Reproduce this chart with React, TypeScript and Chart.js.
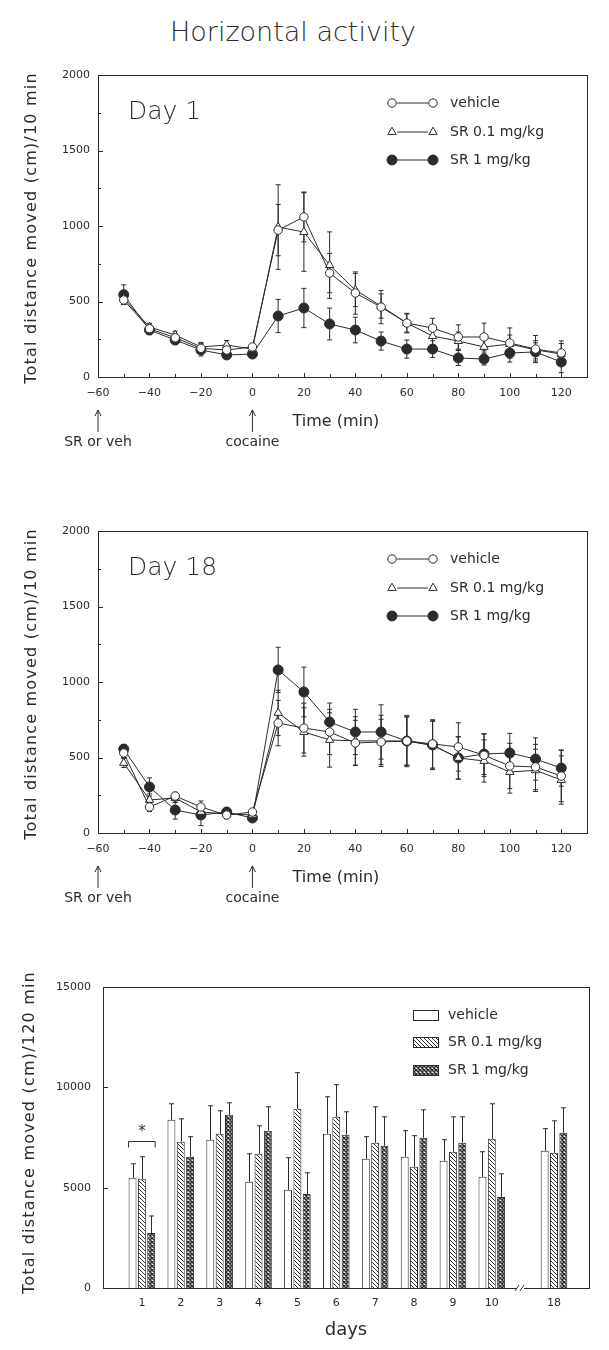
import React, { useEffect, useRef } from 'react';
import { Chart, registerables } from 'chart.js';

Chart.register(...registerables);

const FONT = "'DejaVu Sans', sans-serif";
const INK = '#2b2b2b';

// ---------- Time-course data (min) ----------
const timeMin = [-50, -40, -30, -20, -10, 0, 10, 20, 30, 40, 50, 60, 70, 80, 90, 100, 110, 120];
const timeTicks = [-60, -40, -20, 0, 20, 40, 60, 80, 100, 120];
const distTicks = [0, 500, 1000, 1500, 2000];
const seriesNames = ['vehicle', 'SR 0.1 mg/kg', 'SR 1 mg/kg'];

const day1Vehicle = [510, 320, 260, 190, 179, 199, 973, 1060, 688, 556, 463, 357, 324, 265, 265, 225, 185, 159];
const day1Sr01 = [520, 331, 278, 199, 212, 185, 993, 960, 741, 576, 470, 357, 271, 238, 199, 218, 180, 152];
const day1Sr1 = [545, 311, 245, 179, 146, 152, 404, 457, 351, 311, 238, 185, 185, 126, 119, 159, 166, 99];
const day1VehicleErr = [30, 25, 25, 30, 25, 20, 170, 165, 130, 140, 110, 65, 65, 80, 92, 100, 90, 80];
const day1Sr01Err = [40, 25, 25, 30, 30, 25, 280, 260, 220, 110, 80, 60, 60, 60, 60, 60, 60, 70];
const day1Sr1Err = [65, 30, 30, 40, 25, 25, 110, 130, 105, 85, 60, 60, 55, 50, 40, 60, 60, 70];

const day18Vehicle = [530, 172, 245, 172, 119, 139, 728, 695, 669, 596, 603, 609, 590, 570, 515, 444, 437, 377];
const day18Sr01 = [464, 219, 232, 140, 125, 120, 795, 669, 616, 610, 610, 609, 580, 497, 477, 404, 415, 351];
const day18Sr1 = [556, 305, 152, 119, 139, 99, 1080, 934, 735, 669, 669, 609, 583, 497, 523, 530, 490, 430];
const day18VehicleErr = [30, 30, 25, 40, 25, 20, 150, 165, 150, 150, 150, 160, 160, 160, 140, 150, 150, 170];
const day18Sr01Err = [30, 40, 30, 30, 25, 20, 150, 160, 180, 160, 170, 170, 160, 140, 140, 140, 140, 160];
const day18Sr1Err = [30, 60, 60, 70, 20, 20, 150, 165, 126, 150, 180, 160, 160, 140, 135, 130, 140, 120];

// ---------- Totals per day ----------
const days = ['1', '2', '3', '4', '5', '6', '7', '8', '9', '10', '18'];
const totalTicks = [0, 5000, 10000, 15000];
const vehicleTotal = [5490, 8380, 7390, 5290, 4890, 7690, 6440, 6540, 6340, 5540, 6840];
const vehicleTotalErr = [700, 800, 1690, 1400, 1600, 1840, 1100, 1300, 1050, 1250, 1100];
const sr01Total = [5440, 7290, 7690, 6690, 8930, 8530, 7240, 6040, 6790, 7440, 6740];
const sr01TotalErr = [1100, 1140, 1140, 1390, 1800, 1600, 1790, 1550, 1740, 1740, 1590];
const sr1Total = [2740, 6540, 8630, 7840, 4690, 7640, 7090, 7490, 7240, 4540, 7740];
const sr1TotalErr = [850, 1000, 600, 1190, 1050, 1140, 1440, 1390, 1290, 1150, 1240];

// axis position of a day (broken axis between 10 and 18)
const dayPos = (d: string) => (Number(d) <= 10 ? Number(d) : 11.6);

const fmt = (v: number) => (v < 0 ? '\u2212' + Math.abs(v) : String(v));

function drawMarker(ctx: CanvasRenderingContext2D, kind: number, x: number, y: number) {
  ctx.save();
  ctx.strokeStyle = INK;
  ctx.lineWidth = 1;
  ctx.beginPath();
  if (kind === 1) {
    const r = 4.8;
    ctx.moveTo(x, y - r);
    ctx.lineTo(x + 0.866 * r, y + r / 2);
    ctx.lineTo(x - 0.866 * r, y + r / 2);
    ctx.closePath();
    ctx.fillStyle = '#fff';
  } else {
    const r = kind === 0 ? 4.2 : 5;
    ctx.arc(x, y, r, 0, Math.PI * 2);
    ctx.fillStyle = kind === 0 ? '#fff' : INK;
  }
  ctx.fill();
  ctx.stroke();
  ctx.restore();
}

function drawYTitle(ctx: CanvasRenderingContext2D, text: string, cx: number, cy: number) {
  ctx.save();
  ctx.translate(cx, cy);
  ctx.rotate(-Math.PI / 2);
  ctx.font = `16px ${FONT}`;
  (ctx as any).letterSpacing = '1.2px';
  ctx.textAlign = 'center';
  ctx.textBaseline = 'middle';
  ctx.fillStyle = INK;
  ctx.fillText(text, 0, 0);
  ctx.restore();
}

function drawArrow(ctx: CanvasRenderingContext2D, x: number, y1: number, y2: number) {
  ctx.beginPath();
  ctx.moveTo(x, y1);
  ctx.lineTo(x, y2);
  ctx.moveTo(x - 3, y1 + 6);
  ctx.lineTo(x, y1);
  ctx.lineTo(x + 3, y1 + 6);
  ctx.stroke();
}

function linePlugin(dayLabel: string) {
  return {
    id: 'decor',
    beforeDatasetsDraw(chart: any) {
      const { ctx, scales } = chart;
      const xs = scales.x, ys = scales.y;
      ctx.save();
      ctx.strokeStyle = INK;
      ctx.lineWidth = 1;
      chart.data.datasets.forEach((ds: any) => {
        ds.data.forEach((p: any, i: number) => {
          const e = ds.errors[i];
          const px = xs.getPixelForValue(p.x);
          const yt = ys.getPixelForValue(p.y + e);
          const yb = ys.getPixelForValue(Math.max(0, p.y - e));
          ctx.beginPath();
          ctx.moveTo(px, yt);
          ctx.lineTo(px, yb);
          ctx.moveTo(px - 2.5, yt);
          ctx.lineTo(px + 2.5, yt);
          ctx.moveTo(px - 2.5, yb);
          ctx.lineTo(px + 2.5, yb);
          ctx.stroke();
        });
      });
      ctx.restore();
    },
    afterDraw(chart: any) {
      const { ctx, chartArea: a, scales } = chart;
      const xs = scales.x, ys = scales.y;
      ctx.save();
      ctx.strokeStyle = INK;
      ctx.lineWidth = 1;
      ctx.strokeRect(Math.round(a.left) + 0.5, Math.round(a.top) + 0.5, Math.round(a.right - a.left), Math.round(a.bottom - a.top));
      // inward ticks
      ctx.beginPath();
      for (let v = -60; v <= 130; v += 10) {
        const px = Math.round(xs.getPixelForValue(v)) + 0.5;
        const len = v % 20 === 0 ? 4 : 3;
        ctx.moveTo(px, a.bottom);
        ctx.lineTo(px, a.bottom - len);
      }
      for (let v = 0; v <= 2000; v += 250) {
        const py = Math.round(ys.getPixelForValue(v)) + 0.5;
        const len = v % 500 === 0 ? 5 : 3;
        ctx.moveTo(a.left, py);
        ctx.lineTo(a.left + len, py);
      }
      ctx.stroke();

      // day label
      ctx.fillStyle = INK;
      ctx.font = `200 25px ${FONT}`;
      ctx.textAlign = 'left';
      ctx.textBaseline = 'middle';
      ctx.fillText(dayLabel, a.left + 30, a.top + 37);

      // legend
      const rows = [28, 57, 85];
      rows.forEach((dy, k) => {
        const y = a.top + dy;
        const x1 = a.left + 294, x2 = a.left + 335;
        ctx.beginPath();
        ctx.moveTo(x1 + 5, y);
        ctx.lineTo(x2 - 5, y);
        ctx.stroke();
        drawMarker(ctx, k, x1, y);
        drawMarker(ctx, k, x2, y);
        ctx.fillStyle = INK;
        ctx.font = `14px ${FONT}`;
        ctx.textAlign = 'left';
        ctx.textBaseline = 'middle';
        ctx.fillText(seriesNames[k], a.left + 352, y);
      });

      // annotations
      const xa = xs.getPixelForValue(-60);
      const xb = xs.getPixelForValue(0);
      drawArrow(ctx, xa, a.bottom + 33, a.bottom + 55);
      drawArrow(ctx, xb, a.bottom + 33, a.bottom + 55);
      ctx.fillStyle = INK;
      ctx.font = `14px ${FONT}`;
      ctx.textAlign = 'center';
      ctx.textBaseline = 'middle';
      ctx.fillText('SR or veh', xa, a.bottom + 65);
      ctx.fillText('cocaine', xb, a.bottom + 65);
      ctx.font = `16px ${FONT}`;
      ctx.textAlign = 'left';
      ctx.fillText('Time (min)', xb + 40, a.bottom + 45);

      drawYTitle(ctx, 'Total distance moved (cm)/10 min', 32, (a.top + a.bottom) / 2 + 2);
      ctx.restore();
    },
  };
}

function lineConfig(dayLabel: string, vals: number[][], errs: number[][]): any {
  const styles = [
    { ps: 'circle', r: 4.2, bg: '#fff' },
    { ps: 'triangle', r: 4.8, bg: '#fff' },
    { ps: 'circle', r: 5, bg: INK },
  ];
  return {
    type: 'line',
    data: {
      datasets: vals.map((v, k) => ({
        label: seriesNames[k],
        data: v.map((y, i) => ({ x: timeMin[i], y })),
        errors: errs[k],
        borderColor: INK,
        borderWidth: 1,
        pointStyle: styles[k].ps,
        pointRadius: styles[k].r,
        pointBackgroundColor: styles[k].bg,
        pointBorderColor: INK,
        pointBorderWidth: 1,
        tension: 0,
        fill: false,
      })),
    },
    options: {
      animation: false,
      responsive: false,
      maintainAspectRatio: false,
      layout: { padding: { top: 25, right: 22, left: 0, bottom: 0 } },
      plugins: { legend: { display: false }, tooltip: { enabled: false } },
      scales: {
        x: {
          type: 'linear',
          min: -60,
          max: 130,
          offset: false,
          afterBuildTicks: (s: any) => { s.ticks = timeTicks.map((v) => ({ value: v })); },
          afterFit: (s: any) => { s.height = 83; },
          grid: { display: false, drawTicks: false },
          border: { display: false },
          ticks: { padding: 10, color: INK, font: { size: 11, family: FONT }, autoSkip: false, maxRotation: 0, callback: (v: number) => fmt(v) },
        },
        y: {
          type: 'linear',
          min: 0,
          max: 2000,
          afterBuildTicks: (s: any) => { s.ticks = distTicks.map((v) => ({ value: v })); },
          afterFit: (s: any) => { s.width = 98; },
          grid: { display: false, drawTicks: false },
          border: { display: false },
          ticks: { padding: 8, color: INK, font: { size: 11, family: FONT }, callback: (v: number) => String(v) },
        },
      },
    },
    plugins: [linePlugin(dayLabel)],
  };
}

function makePattern(kind: 'hatch' | 'cross') {
  const s = 4;
  const c = document.createElement('canvas');
  c.width = s;
  c.height = s;
  const g = c.getContext('2d')!;
  g.fillStyle = '#fff';
  g.fillRect(0, 0, s, s);
  g.strokeStyle = INK;
  g.lineWidth = kind === 'hatch' ? 1 : 1.5;
  g.beginPath();
  for (const x0 of [-s, 0, s]) {
    g.moveTo(x0, 0);
    g.lineTo(x0 + s, s);
    if (kind === 'cross') {
      g.moveTo(x0 + s, 0);
      g.lineTo(x0, s);
    }
  }
  g.stroke();
  return g.createPattern(c, 'repeat')!;
}

function barConfig(): any {
  const hatch = makePattern('hatch');
  const cross = makePattern('cross');
  const fills = ['#fff', hatch, cross];
  const vals = [vehicleTotal, sr01Total, sr1Total];
  const errs = [vehicleTotalErr, sr01TotalErr, sr1TotalErr];

  const plugin = {
    id: 'barDecor',
    afterDatasetsDraw(chart: any) {
      const { ctx, chartArea: a, scales } = chart;
      const ys = scales.y, xs = scales.x;
      ctx.save();
      ctx.strokeStyle = INK;
      ctx.lineWidth = 1;
      chart.data.datasets.forEach((ds: any, k: number) => {
        const meta = chart.getDatasetMeta(k);
        meta.data.forEach((bar: any, i: number) => {
          const px = Math.round(bar.x) + 0.5;
          const yt = ys.getPixelForValue(ds.data[i].y + ds.errors[i]);
          ctx.beginPath();
          ctx.moveTo(px, bar.y);
          ctx.lineTo(px, yt);
          ctx.moveTo(px - 2.5, yt);
          ctx.lineTo(px + 2.5, yt);
          ctx.stroke();
        });
      });
      // significance bracket on day 1
      const b0 = chart.getDatasetMeta(0).data[0];
      const b2 = chart.getDatasetMeta(2).data[0];
      const l = b0.x - b0.width / 2;
      const r = b2.x + b2.width / 2;
      const yb = Math.round(ys.getPixelForValue(7330)) + 0.5;
      ctx.beginPath();
      ctx.moveTo(l, yb + 6);
      ctx.lineTo(l, yb);
      ctx.lineTo(r, yb);
      ctx.lineTo(r, yb + 6);
      ctx.stroke();
      ctx.fillStyle = INK;
      ctx.font = `15px ${FONT}`;
      ctx.textAlign = 'center';
      ctx.textBaseline = 'middle';
      ctx.fillText('*', (l + r) / 2, ys.getPixelForValue(7330) - 9);

      // frame
      ctx.strokeRect(Math.round(a.left) + 0.5, Math.round(a.top) + 0.5, Math.round(a.right - a.left), Math.round(a.bottom - a.top));
      ctx.beginPath();
      totalTicks.forEach((v) => {
        const py = Math.round(ys.getPixelForValue(v)) + 0.5;
        ctx.moveTo(a.left, py);
        ctx.lineTo(a.left + 5, py);
      });
      ctx.stroke();
      // axis break
      const bx = xs.getPixelForValue(10.75);
      ctx.fillStyle = '#fff';
      ctx.fillRect(bx - 4, a.bottom - 1, 7, 3);
      ctx.beginPath();
      ctx.moveTo(bx - 6, a.bottom + 3);
      ctx.lineTo(bx - 2, a.bottom - 3);
      ctx.moveTo(bx - 1, a.bottom + 3);
      ctx.lineTo(bx + 3, a.bottom - 3);
      ctx.stroke();

      // legend
      const rows = [28, 55, 83];
      rows.forEach((dy, k) => {
        const y = a.top + dy;
        ctx.fillStyle = fills[k];
        ctx.fillRect(a.left + 310, y - 5, 25, 10);
        ctx.strokeRect(a.left + 310.5, y - 4.5, 25, 10);
        ctx.fillStyle = INK;
        ctx.font = `14px ${FONT}`;
        ctx.textAlign = 'left';
        ctx.textBaseline = 'middle';
        ctx.fillText(seriesNames[k], a.left + 345, y);
      });

      ctx.font = `18px ${FONT}`;
      ctx.textAlign = 'center';
      ctx.fillText('days', 346, a.bottom + 42);
      drawYTitle(ctx, 'Total distance moved (cm)/120 min', 30, (a.top + a.bottom) / 2 - 5);
      ctx.restore();
    },
  };

  return {
    type: 'bar',
    data: {
      datasets: vals.map((v, k) => ({
        label: seriesNames[k],
        data: v.map((y, i) => ({ x: dayPos(days[i]), y })),
        errors: errs[k],
        backgroundColor: fills[k],
        borderColor: INK,
        borderWidth: 1,
        categoryPercentage: 0.72,
        barPercentage: 0.85,
      })),
    },
    options: {
      animation: false,
      responsive: false,
      maintainAspectRatio: false,
      layout: { padding: { top: 37, right: 20, left: 0, bottom: 0 } },
      plugins: { legend: { display: false }, tooltip: { enabled: false } },
      scales: {
        x: {
          type: 'linear',
          min: 0,
          max: 12.5,
          offset: false,
          afterBuildTicks: (s: any) => { s.ticks = days.map((d) => ({ value: dayPos(d) })); },
          afterFit: (s: any) => { s.height = 62; },
          grid: { display: false, drawTicks: false },
          border: { display: false },
          ticks: { padding: 9, color: INK, font: { size: 11, family: FONT }, autoSkip: false, maxRotation: 0, callback: (_v: number, i: number) => days[i] },
        },
        y: {
          type: 'linear',
          min: 0,
          max: 15000,
          afterBuildTicks: (s: any) => { s.ticks = totalTicks.map((v) => ({ value: v })); },
          afterFit: (s: any) => { s.width = 103; },
          grid: { display: false, drawTicks: false },
          border: { display: false },
          ticks: { padding: 12, color: INK, font: { size: 11, family: FONT }, callback: (v: number) => String(v) },
        },
      },
    },
    plugins: [plugin],
  };
}

function ChartBox({ top, height, make }: { top: number; height: number; make: () => any }) {
  const ref = useRef<HTMLCanvasElement>(null);
  useEffect(() => {
    const chart = new Chart(ref.current as HTMLCanvasElement, make());
    return () => chart.destroy();
  }, []);
  return (
    <canvas
      ref={ref}
      width={609}
      height={height}
      style={{ position: 'absolute', left: 0, top, width: 609, height, display: 'block' }}
    />
  );
}

export default function App() {
  return (
    <div style={{ position: 'absolute', left: 0, top: 0, width: 609, height: 1350, background: '#fff', overflow: 'hidden' }}>
      <div
        style={{
          position: 'absolute',
          left: 170,
          top: 17,
          fontFamily: FONT,
          fontSize: 27,
          fontWeight: 200,
          lineHeight: '30px',
          color: INK,
          whiteSpace: 'nowrap',
        }}
      >
        Horizontal activity
      </div>
      <ChartBox
        top={50}
        height={410}
        make={() => lineConfig('Day 1', [day1Vehicle, day1Sr01, day1Sr1], [day1VehicleErr, day1Sr01Err, day1Sr1Err])}
      />
      <ChartBox
        top={506}
        height={410}
        make={() => lineConfig('Day 18', [day18Vehicle, day18Sr01, day18Sr1], [day18VehicleErr, day18Sr01Err, day18Sr1Err])}
      />
      <ChartBox top={950} height={400} make={barConfig} />
    </div>
  );
}
